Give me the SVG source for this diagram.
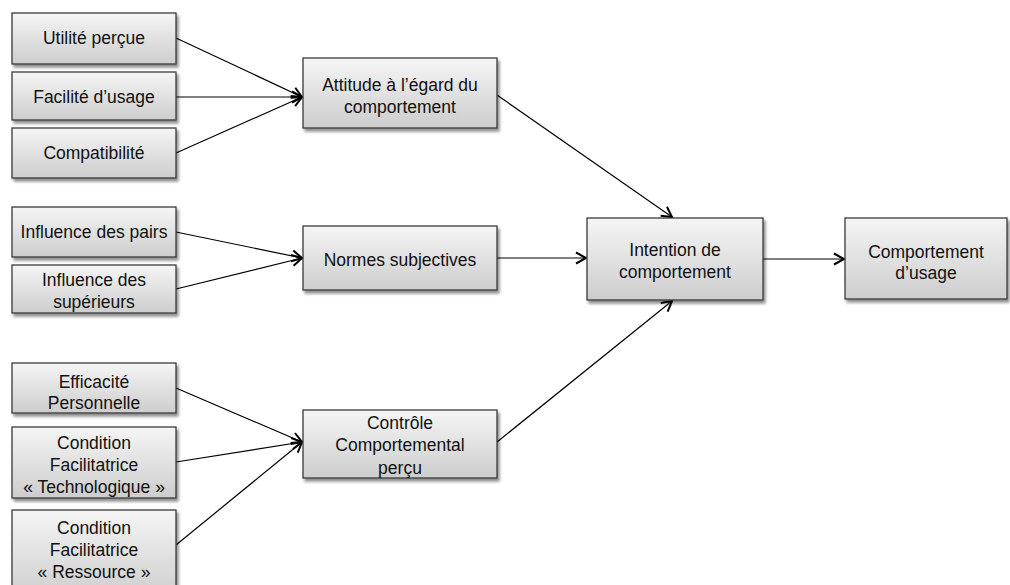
<svg xmlns="http://www.w3.org/2000/svg" width="1010" height="585" viewBox="0 0 1010 585">
<defs>
<linearGradient id="g" x1="0" y1="0" x2="0" y2="1">
<stop offset="0" stop-color="#f5f5f5"/>
<stop offset="1" stop-color="#cdcdcd"/>
</linearGradient>
<filter id="sh" x="-10%" y="-10%" width="125%" height="135%">
<feGaussianBlur in="SourceAlpha" stdDeviation="1.5"/>
<feOffset dx="1.5" dy="2.5" result="b"/>
<feComponentTransfer><feFuncA type="linear" slope="0.45"/></feComponentTransfer>
<feMerge><feMergeNode/><feMergeNode in="SourceGraphic"/></feMerge>
</filter>
<marker id="ah" markerUnits="userSpaceOnUse" markerWidth="16" markerHeight="16" viewBox="-12 -8 14 16" refX="0" refY="0" orient="auto">
<path d="M-10,-5.5 L0,0 L-10,5.5" fill="none" stroke="#000" stroke-width="2"/>
</marker>
<style>
.box{fill:url(#g);stroke:#3a3a3a;stroke-width:1.3;filter:url(#sh)}
.t{font-family:"Liberation Sans",Arial,sans-serif;font-size:17.5px;fill:#111;text-anchor:middle}
.c{stroke:#000;stroke-width:1.2;fill:none;marker-end:url(#ah)}
</style>
</defs>
<rect width="1010" height="585" fill="#fff"/>
<g id="connectors">
<line class="c" x1="176" y1="38" x2="302" y2="97"/>
<line class="c" x1="176" y1="97" x2="302" y2="97"/>
<line class="c" x1="176" y1="153" x2="302" y2="97"/>
<line class="c" x1="176" y1="232" x2="302" y2="258"/>
<line class="c" x1="176" y1="289" x2="302" y2="258"/>
<line class="c" x1="176" y1="388" x2="302" y2="442"/>
<line class="c" x1="176" y1="462" x2="302" y2="442"/>
<line class="c" x1="176" y1="545" x2="302" y2="442"/>
<line class="c" x1="497" y1="95" x2="672" y2="217"/>
<line class="c" x1="497" y1="258" x2="586" y2="258"/>
<line class="c" x1="497" y1="442" x2="672" y2="301"/>
<line class="c" x1="763" y1="259" x2="844" y2="259"/>
</g>
<g id="n-utilite"><rect class="box" x="12" y="13" width="164" height="51"/><text class="t" x="94" y="44">Utilité perçue</text></g>
<g id="n-facilite"><rect class="box" x="12" y="72" width="164" height="48"/><text class="t" x="94" y="103">Facilité d’usage</text></g>
<g id="n-compat"><rect class="box" x="12" y="128" width="164" height="50"/><text class="t" x="94" y="159">Compatibilité</text></g>
<g id="n-pairs"><rect class="box" x="12" y="207" width="164" height="50"/><text class="t" x="94" y="238">Influence des pairs</text></g>
<g id="n-sup"><rect class="box" x="12" y="265" width="164" height="48"/><text class="t" x="94" y="286">Influence des</text><text class="t" x="94" y="308">supérieurs</text></g>
<g id="n-effic"><rect class="box" x="12" y="363" width="164" height="50"/><text class="t" x="94" y="388">Efficacité</text><text class="t" x="94" y="409">Personnelle</text></g>
<g id="n-tech"><rect class="box" x="12" y="427" width="164" height="71"/><text class="t" x="94" y="449">Condition</text><text class="t" x="94" y="471">Facilitatrice</text><text class="t" x="94" y="493">« Technologique »</text></g>
<g id="n-ress"><rect class="box" x="12" y="510" width="164" height="90"/><text class="t" x="94" y="534">Condition</text><text class="t" x="94" y="556">Facilitatrice</text><text class="t" x="94" y="578">« Ressource »</text></g>
<g id="n-attitude"><rect class="box" x="303" y="58" width="194" height="70"/><text class="t" x="400" y="91">Attitude à l’égard du</text><text class="t" x="400" y="113">comportement</text></g>
<g id="n-normes"><rect class="box" x="303" y="226" width="194" height="64"/><text class="t" x="400" y="266">Normes subjectives</text></g>
<g id="n-controle"><rect class="box" x="303" y="410" width="194" height="68"/><text class="t" x="400" y="429">Contrôle</text><text class="t" x="400" y="451">Comportemental</text><text class="t" x="400" y="474">perçu</text></g>
<g id="n-intention"><rect class="box" x="587" y="218" width="176" height="82"/><text class="t" x="675" y="256">Intention de</text><text class="t" x="675" y="278">comportement</text></g>
<g id="n-usage"><rect class="box" x="845" y="218" width="162" height="81"/><text class="t" x="926" y="258">Comportement</text><text class="t" x="926" y="279">d’usage</text></g>
</svg>
